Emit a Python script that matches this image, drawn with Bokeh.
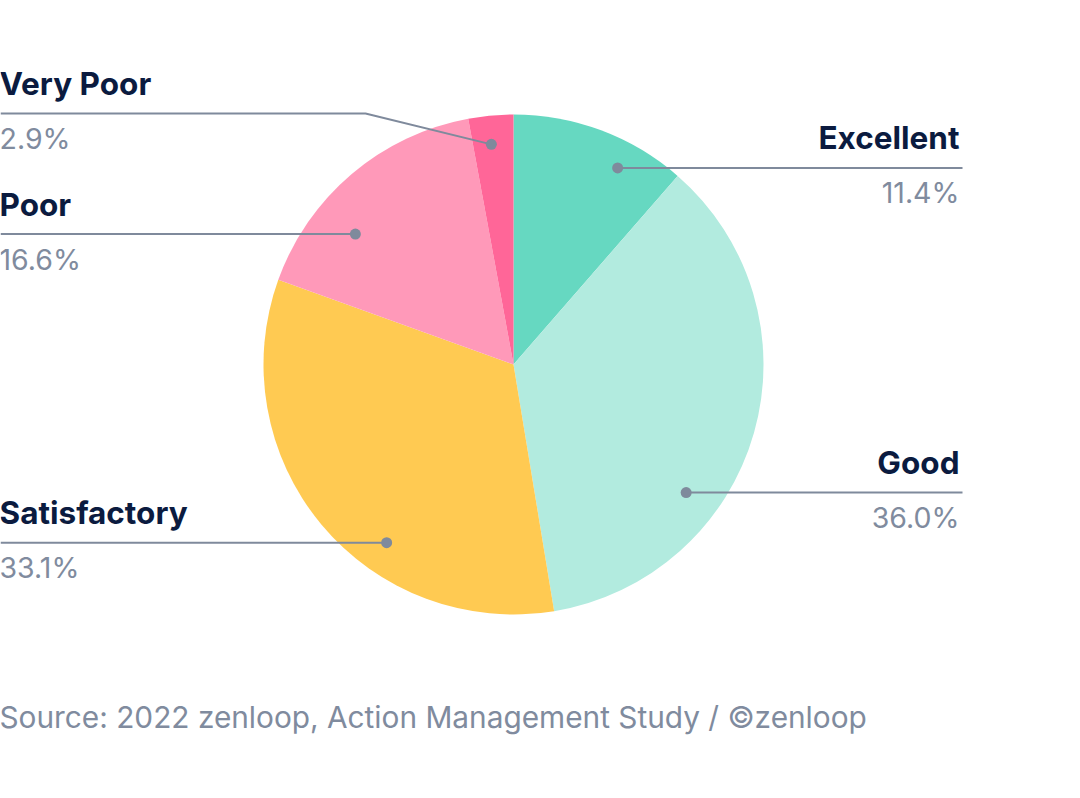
import math
from bokeh.plotting import figure
from bokeh.models import Range1d, ColumnDataSource
from bokeh.core.properties import value
from bokeh.embed import file_html
from bokeh.resources import INLINE

# ---- data ----
categories = ["Excellent", "Good", "Satisfactory", "Poor", "Very Poor"]
values = [11.4, 36.0, 33.1, 16.6, 2.9]
colors = ["#66D8C1", "#B2EBDF", "#FFCA52", "#FF99B9", "#FF6698"]
pct_labels = ["11.4%", "36.0%", "33.1%", "16.6%", "2.9%"]
source_text = "Source: 2022 zenloop, Action Management Study / \u00a9zenloop"

# ---- layout (pixel-like units) ----
W, H = 1064, 782
PAGE_H = 798
CX, CY = 513, PAGE_H - 364
R = 250
NAVY = "#0B1B3F"
GREY = "#808B9E"
LINE = "#7F8A9C"
# where the leader dot sits inside each slice (fraction along the slice, fraction of radius)
dot_frac = [0.68, 0.66, 0.376, 0.33, 0.45]
dot_rfrac = [0.89, 0.86, 0.875, 0.82, 0.885]
side = ["right", "right", "left", "left", "left"]
LEFT_X, RIGHT_X = -1, 962
BASE_FIX = 11  # svg alphabetic baseline offset compensation

p = figure(width=W, height=H, x_range=Range1d(0, W), y_range=Range1d(PAGE_H - H, PAGE_H),
           output_backend="svg", toolbar_location=None, min_border=0)
p.axis.visible = False
p.grid.visible = False
p.outline_line_color = None
p.background_fill_color = "white"

starts, ends = [], []
cum = 0.0
for v in values:
    starts.append(math.radians(90 - cum * 3.6))
    ends.append(math.radians(90 - (cum + v) * 3.6))
    cum += v

src = ColumnDataSource(dict(cat=categories, val=values, start=starts, end=ends, color=colors))
p.wedge(x=CX, y=CY, radius=R, start_angle="start", end_angle="end", direction="clock",
        fill_color="color", line_color=None, source=src)

dx, dy = [], []
for i in range(len(values)):
    a = starts[i] + (ends[i] - starts[i]) * dot_frac[i]
    dx.append(CX + R * dot_rfrac[i] * math.cos(a))
    dy.append(CY + R * dot_rfrac[i] * math.sin(a))

lab_x, lab_y, lab_t, lab_a = [], [], [], []
pct_x, pct_y, pct_t = [], [], []
for i, cat in enumerate(categories):
    if cat == "Very Poor":
        ly = PAGE_H - 113
        elbow_x = 365
        p.line([0, elbow_x, dx[i]], [ly, ly, dy[i]], line_color=LINE, line_width=2)
    else:
        ly = dy[i]
        end_x = RIGHT_X if side[i] == "right" else 0
        p.line([dx[i], end_x], [ly, ly], line_color=LINE, line_width=2)
    tx = RIGHT_X - 3 if side[i] == "right" else LEFT_X
    lab_x.append(tx); lab_y.append(ly + 19 + BASE_FIX); lab_t.append(cat); lab_a.append(side[i])
    pct_x.append(tx); pct_y.append(ly - 36 + BASE_FIX); pct_t.append(pct_labels[i])

p.scatter(dx, dy, size=11, marker="circle", fill_color=LINE, line_color=None)

for align in ("left", "right"):
    idx = [i for i in range(len(lab_t)) if lab_a[i] == align]
    p.text([lab_x[i] for i in idx], [lab_y[i] for i in idx], text=[lab_t[i] for i in idx],
           text_font=value("Inter"), text_font_style="bold", text_font_size="31.5px",
           text_color=NAVY, text_align=align, text_baseline="alphabetic")
    p.text([pct_x[i] for i in idx], [pct_y[i] for i in idx], text=[pct_t[i] for i in idx],
           text_font=value("Inter"), text_font_size="28.5px",
           text_color=GREY, text_align=align, text_baseline="alphabetic")

p.text([LEFT_X], [PAGE_H - 716], text=[source_text], text_font=value("Inter"),
       text_font_size="29.8px", text_color=GREY, text_align="left", text_baseline="alphabetic")

open("out.html", "w").write(file_html(p, INLINE))
